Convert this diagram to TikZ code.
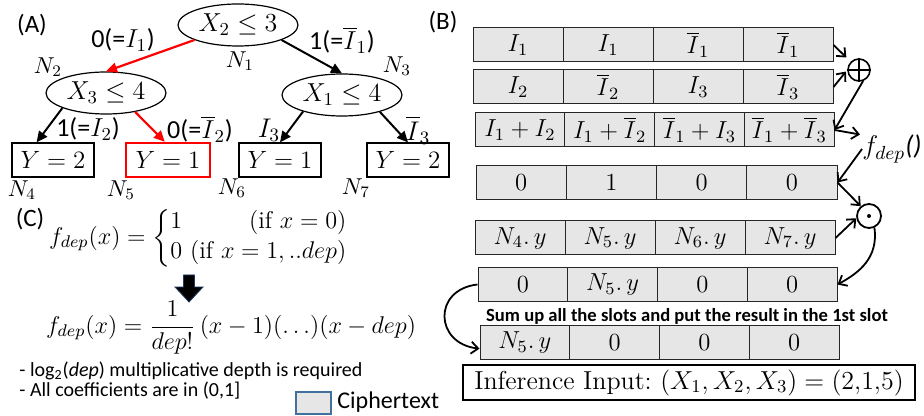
\documentclass[tikz,border=0pt]{standalone}
\usepackage{fix-cm}
\usepackage{amsmath}
\usepackage{fontspec}
\newfontfamily\calib{Carlito}
\usetikzlibrary{arrows.meta,calc,shapes.geometric}
\definecolor{cellgray}{HTML}{E7E6E6}
\definecolor{legblue}{HTML}{41719C}
\definecolor{myred}{HTML}{FF0000}
\definecolor{navyline}{HTML}{1F3864}
\newcommand\slotrow[8]{%
  \node[cell, minimum width=#4*0.5pt] (#1a) at ({#2+0.5*#4},#3) {#5};
  \node[cell, minimum width=#4*0.5pt] (#1b) at ({#2+1.5*#4},#3) {#6};
  \node[cell, minimum width=#4*0.5pt] (#1c) at ({#2+2.5*#4},#3) {#7};
  \node[cell, minimum width=#4*0.5pt] (#1d) at ({#2+3.5*#4},#3) {#8};}
\begin{document}
\begin{tikzpicture}[x=0.5pt,y=-0.5pt,
  tri/.style={-{Triangle[length=5.5pt,width=5pt]}, line width=1pt},
  redarrow/.style={tri, draw=myred, fill=myred, line width=1.1pt},
  dec/.style={ellipse, draw, line width=0.6pt, minimum width=60pt, minimum height=21pt, inner sep=0pt, font=\fontsize{13}{15}\selectfont},
  leaf/.style={rectangle, draw, line width=0.6pt, minimum width=41pt, minimum height=17pt, inner sep=0pt, font=\fontsize{12.5}{15}\selectfont},
  nlab/.style={inner sep=0pt, font=\fontsize{11.5}{14}\selectfont},
  elab/.style={inner sep=0pt, font=\calib\fontsize{13}{15}\selectfont},
  panel/.style={inner sep=0pt, font=\calib\fontsize{12.5}{15}\selectfont},
  cell/.style={rectangle, draw=black!85, fill=cellgray, line width=0.5pt, minimum height=17pt, inner sep=0pt, font=\fontsize{12.3}{14}\selectfont},
  barb/.style={-{Straight Barb[length=3.5pt,width=6pt]}, line width=0.9pt},
  fm/.style={inner sep=0pt, font=\fontsize{12.1}{15}\selectfont},
  bul/.style={inner sep=0pt, anchor=base west, font=\calib\fontsize{10}{12}\selectfont}
]
\useasboundingbox (0,0) rectangle (924,416);

% ---------- Panel A ----------
\node[panel] (pa) at (32,25) {(A)};
\node[dec] (n1) at (238,25) {$X_2 \le 3$};
\node[dec] (n2) at (106,93) {$X_3 \le 4$};
\node[dec] (n3) at (342,95) {$X_1 \le 4$};
\node[leaf] (n4) at (53,160) {$Y=2$};
\node[leaf, draw=myred, line width=1.2pt, minimum width=42pt] (n5) at (168,160) {$Y=1$};
\node[leaf] (n6) at (280,160) {$Y=1$};
\node[leaf] (n7) at (408,160) {$Y=2$};

\node[nlab] (l1) at (240,61) {$N_1$};
\node[nlab] (l2) at (48,67) {$N_2$};
\node[nlab] (l3) at (397,66) {$N_3$};
\node[nlab] (l4) at (22,190) {$N_4$};
\node[nlab] (l5) at (121,190) {$N_5$};
\node[nlab] (l6) at (232,188) {$N_6$};
\node[nlab] (l7) at (356,188) {$N_7$};

\node[elab] (e1) at (123,40) {0(=$I_1$)};
\node[elab] (e2) at (342,40) {1(=$\overline{I}_1$)};
\node[elab] (e3) at (88,129) {1(=$I_2$)};
\node[elab] (e4) at (200,129) {0(=$\overline{I}_2$)};
\node[elab, font=\fontsize{13.5}{16}\selectfont] (e5) at (269,130) {$I_3$};
\node[elab, font=\fontsize{13.5}{16}\selectfont] (e6) at (418,130) {$\overline{I}_3$};

\draw[redarrow] (n1.199) -- (n2.north);
\draw[tri] (n1.-19) -- (n3.north);
\draw[tri] (n2.199) -- (n4.133);
\draw[redarrow] (n2.-33) -- (n5.100);
\draw[tri] (n3.203) -- (n6.north);
\draw[tri] (n3.-24) -- (n7.north);

% ---------- Panel C ----------
\node[panel] (pc) at (30,219) {(C)};
\node[fm] (f1) at (199,238) {$f_{dep}(x) = \left\{\begin{array}{@{}l@{}} 1 \hfill (\mathrm{if}\ x = 0)\\ 0\ (\mathrm{if}\ x = 1,..dep)\end{array}\right.$};
\filldraw[fill=black, draw=navyline, line width=0.4pt] (183.5,275) -- (194.5,275) -- (194.5,287) -- (203,287) -- (189,302) -- (175,287) -- (183.5,287) -- cycle;
\node[fm] (f2) at (231,328) {$\displaystyle f_{dep}(x) = \frac{1}{dep!}\,(x-1)(\ldots)(x-dep)$};
\node[bul] (b1) at (19,376) {- log\textsubscript{2}(\textit{dep}) multiplicative depth is required};
\node[bul] (b2) at (19,396) {- All coefficients are in (0,1]};
\node[rectangle, draw=legblue, fill=cellgray, line width=0.6pt, minimum width=17.5pt, minimum height=11pt, inner sep=0pt] (leg) at (313.5,403) {};
\node[inner sep=0pt, anchor=base west, font=\calib\fontsize{12}{14}\selectfont] (legt) at (337,408) {Ciphertext};

% ---------- Panel B ----------
\node[panel] (pb) at (443,22) {(B)};
\slotrow{ra}{473}{45}{90}{$I_1$}{$I_1$}{$\overline{I}_1$}{$\overline{I}_1$}
\slotrow{rb}{473}{87}{90}{$I_2$}{$\overline{I}_2$}{$I_3$}{$\overline{I}_3$}
\slotrow{rc}{475}{130}{89.75}{$I_1+I_2$}{$I_1+\overline{I}_2$}{$\overline{I}_1+I_3$}{$\overline{I}_1+\overline{I}_3$}
\slotrow{rd}{476}{182.5}{90.25}{$0$}{$1$}{$0$}{$0$}
\slotrow{re}{475}{238}{90}{$N_4.\,y$}{$N_5.\,y$}{$N_6.\,y$}{$N_7.\,y$}
\slotrow{rf}{478}{284.5}{89.75}{$0$}{$N_5.\,y$}{$0$}{$0$}
\slotrow{rg}{480}{342.5}{89.75}{$N_5.\,y$}{$0$}{$0$}{$0$}

\node[circle, draw, line width=0.8pt, minimum size=11pt, inner sep=0pt] (op) at (859,70) {};
\draw[line width=0.8pt] (op.north) -- (op.south) (op.west) -- (op.east);
\node[circle, draw, line width=0.9pt, minimum size=12pt, inner sep=0pt] (od) at (869,216) {};
\fill (od.center) circle (2);
\node[inner sep=0pt, font=\fontsize{13.5}{15}\selectfont] (fd) at (892,149) {$f_{dep}${\calib\itshape ()}};

\draw[barb, shorten >=3pt] (rad.east) -- (op.135);
\draw[barb, shorten >=1pt] (rbd.east) -- (op.180);
\draw[barb] (op.-70) -- (rcd.east);
\draw[barb, shorten >=1pt] (rcd.east) -- (fd.north west);
\draw[barb] (fd.west) -- (rdd.east);
\draw[barb] (rdd.east) -- (od.130);
\draw[barb] (red.east) -- (od.190);
\draw[barb] (od.-65) .. controls +(4,30) and +(22,-12) .. (rfd.east);
\draw[barb] (rfa.west) .. controls +(-45,5) and +(-45,-5) .. ($(rga.west)!0.35!(rga.south west)$);

\node[inner sep=0pt, font=\calib\bfseries\fontsize{9.3}{11}\selectfont] (sum) at (687,316) {Sum up all the slots and put the result in the 1st slot};
\node[draw, line width=0.6pt, minimum width=226pt, minimum height=17.5pt, inner sep=0pt, font=\fontsize{13}{15}\selectfont] (inf) at (689,382.5) {Inference Input:\ $(X_1,X_2,X_3)=(2{,}1{,}5)$};
\end{tikzpicture}
\end{document}
